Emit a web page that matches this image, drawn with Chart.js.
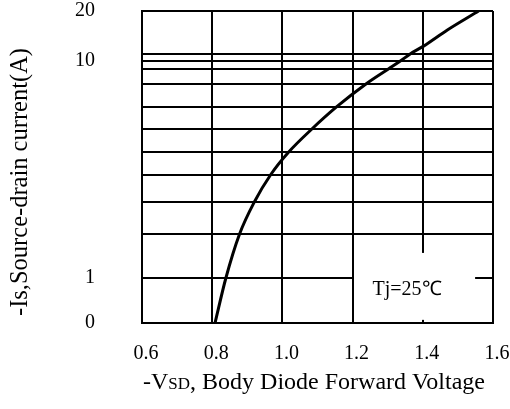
<!DOCTYPE html>
<html>
<head>
<meta charset="utf-8">
<script src="https://cdn.jsdelivr.net/npm/chart.js@4.4.1/dist/chart.umd.min.js"></script>
<style>
    html, body { margin: 0; padding: 0; background: #fff; }
    #wrap { width: 510px; height: 409px; position: relative; }
</style>
</head>
<body>
<div id="wrap"><canvas id="grafico"></canvas></div>
<script>
// Datos
const voltajeV = [0.808, 0.839, 0.878, 0.920, 0.967, 1.018, 1.084, 1.155, 1.239, 1.303, 1.336, 1.365, 1.402, 1.470, 1.559];
const corrienteA = [0, 1, 2, 3, 4, 5, 6, 7, 8, 9, 10, 11, 12.6, 16, 20];
const xTicks = [0.6, 0.8, 1.0, 1.2, 1.4, 1.6];
const yTicks = [0, 1, 2, 3, 4, 5, 6, 7, 8, 9, 10, 11, 20];
const yEtiquetas = [0, 1, 10, 20];

// Escala del eje Y (no es log puro): altura de cada linea de la rejilla, en fraccion
const alturasRejilla = [0, 45, 89, 121, 148.5, 171, 194, 216.3, 239.3, 254.3, 262, 269.3, 312].map((h) => h / 312);

const FUENTE = 'Liberation Serif, Times New Roman, serif';

function fraccionDeValor(v) {
    if (v <= yTicks[0]) return alturasRejilla[0];
    for (let i = 0; i < yTicks.length - 1; i++) {
        if (v <= yTicks[i + 1]) {
            const t = (v - yTicks[i]) / (yTicks[i + 1] - yTicks[i]);
            return alturasRejilla[i] + t * (alturasRejilla[i + 1] - alturasRejilla[i]);
        }
    }
    return alturasRejilla[alturasRejilla.length - 1];
}

function valorDeFraccion(f) {
    for (let i = 0; i < alturasRejilla.length - 1; i++) {
        if (f <= alturasRejilla[i + 1]) {
            const t = (f - alturasRejilla[i]) / (alturasRejilla[i + 1] - alturasRejilla[i]);
            return yTicks[i] + t * (yTicks[i + 1] - yTicks[i]);
        }
    }
    return yTicks[yTicks.length - 1];
}

class EscalaRejilla extends Chart.LinearScale {
    getPixelForValue(value) {
        if (value === null || value === undefined || isNaN(value)) return NaN;
        return this.getPixelForDecimal(fraccionDeValor(value));
    }
    getValueForPixel(pixel) {
        return valorDeFraccion(this.getDecimalForPixel(pixel));
    }
}
EscalaRejilla.id = 'rejilla';
Chart.register(EscalaRejilla);

function sinRelleno(scale) {
    scale.paddingTop = 0;
    scale.paddingBottom = 0;
    scale.paddingLeft = 0;
    scale.paddingRight = 0;
}

const recuadroTj = {
    id: 'recuadroTj',
    beforeDatasetsDraw(chart) {
        const { ctx, scales: { x, y } } = chart;
        const x0 = x.getPixelForValue(1.204);
        const x1 = x.getPixelForValue(1.549);
        const y0 = y.getPixelForValue(1.57);
        const y1 = y.getPixelForValue(0.07);
        ctx.save();
        ctx.fillStyle = '#fff';
        ctx.fillRect(x0, y0, x1 - x0, y1 - y0);
        ctx.fillStyle = '#000';
        ctx.font = '20px ' + FUENTE;
        ctx.textAlign = 'center';
        ctx.textBaseline = 'middle';
        ctx.fillText('Tj=25\u2103', x.getPixelForValue(1.355), y.getPixelForValue(0.74));
        ctx.restore();
    }
};

const titulosEjes = {
    id: 'titulosEjes',
    afterDraw(chart) {
        const ctx = chart.ctx;
        ctx.save();
        ctx.fillStyle = '#000';
        ctx.textBaseline = 'middle';

        // Titulo eje Y
        ctx.font = '24.5px ' + FUENTE;
        ctx.translate(21, 182);
        ctx.rotate(-Math.PI / 2);
        ctx.textAlign = 'center';
        ctx.fillText('-Is,Source-drain current(A)', 0, 0);
        ctx.setTransform(1, 0, 0, 1, 0, 0);

        // Titulo eje X con "SD" en versalitas
        const partes = [['-V', 24], ['SD', 17], [', Body Diode Forward Voltage', 24]];
        let ancho = 0;
        partes.forEach(([txt, tam]) => {
            ctx.font = tam + 'px ' + FUENTE;
            ancho += ctx.measureText(txt).width;
        });
        let cx = 314 - ancho / 2;
        ctx.textAlign = 'left';
        ctx.textBaseline = 'alphabetic';
        partes.forEach(([txt, tam]) => {
            ctx.font = tam + 'px ' + FUENTE;
            ctx.fillText(txt, cx, 389);
            cx += ctx.measureText(txt).width;
        });
        ctx.restore();
    }
};

new Chart(document.getElementById('grafico'), {
    type: 'scatter',
    data: {
        datasets: [{
            data: voltajeV.map((v, i) => ({ x: v, y: corrienteA[i] })),
            showLine: true,
            borderColor: '#000',
            borderWidth: 3,
            pointRadius: 0,
            cubicInterpolationMode: 'monotone'
        }]
    },
    options: {
        responsive: true,
        maintainAspectRatio: false,
        animation: false,
        events: [],
        layout: { padding: { top: 11, right: 17, left: 0, bottom: 0 } },
        plugins: { legend: { display: false }, tooltip: { enabled: false } },
        scales: {
            x: {
                type: 'linear',
                min: 0.6,
                max: 1.6,
                afterBuildTicks: (scale) => { scale.ticks = xTicks.map((v) => ({ value: v })); },
                afterFit: (scale) => { scale.height = 86; sinRelleno(scale); },
                grid: { color: '#000', lineWidth: 2, drawTicks: false },
                border: { color: '#000', width: 2 },
                ticks: {
                    color: '#000',
                    padding: 19,
                    maxRotation: 0,
                    labelOffset: 4,
                    font: { family: FUENTE, size: 20 },
                    callback: (v) => Number(v).toFixed(1)
                }
            },
            y: {
                type: 'rejilla',
                min: 0,
                max: 20,
                afterBuildTicks: (scale) => { scale.ticks = yTicks.map((v) => ({ value: v })); },
                afterFit: (scale) => { scale.width = 142; sinRelleno(scale); },
                grid: { color: '#000', lineWidth: 2, drawTicks: false },
                border: { color: '#000', width: 2 },
                ticks: {
                    color: '#000',
                    padding: 47,
                    autoSkip: false,
                    font: { family: FUENTE, size: 20 },
                    callback: (v) => (yEtiquetas.includes(v) ? String(v) : '')
                }
            }
        }
    },
    plugins: [recuadroTj, titulosEjes]
});
</script>
</body>
</html>
